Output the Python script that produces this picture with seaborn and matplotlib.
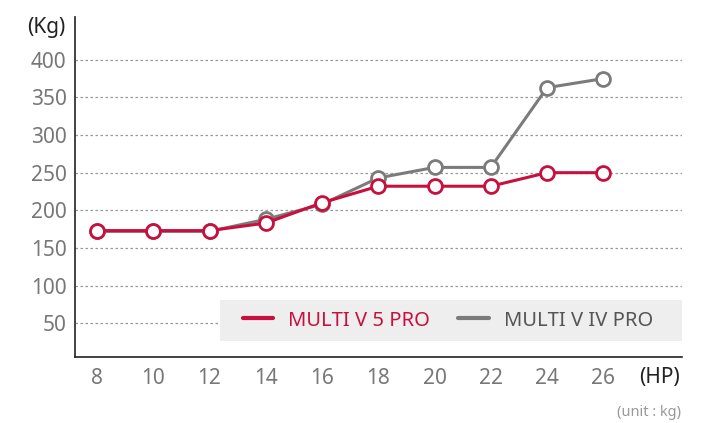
import pandas as pd
import numpy as np
import matplotlib.pyplot as plt
import seaborn as sns
from matplotlib.lines import Line2D
from matplotlib.patches import Rectangle

hp = [8, 10, 12, 14, 16, 18, 20, 22, 24, 26]
multi_v5 = [173, 173, 173, 183, 210, 232, 232, 232, 250, 250]
multi_v4 = [172, 172, 172, 188, 208, 243, 257, 257, 363, 375]
series_names = ['MULTI V 5 PRO', 'MULTI V IV PRO']
y_ticks = [50, 100, 150, 200, 250, 300, 350, 400]

red = '#c8103e'
grey = '#7b7b7b'

sns.set_style('white')
plt.rcParams['font.family'] = ['Noto Sans', 'DejaVu Sans']

df = pd.DataFrame({
    'HP': hp * 2,
    'Kg': multi_v5 + multi_v4,
    'model': [series_names[0]] * len(hp) + [series_names[1]] * len(hp),
})

fig = plt.figure(figsize=(7.15, 4.23), dpi=100)
ax = fig.add_axes([0.105, 0.156, 0.849, 0.804])

# grey first so red sits on top
sns.lineplot(data=df, x='HP', y='Kg', hue='model',
             hue_order=[series_names[1], series_names[0]],
             palette={series_names[0]: red, series_names[1]: grey},
             marker='o', markersize=10, markerfacecolor='white',
             markeredgewidth=2, linewidth=2.2, dashes=False,
             legend=False, ax=ax)

# white fill needs the edge in the line colour
for line in ax.get_lines():
    line.set_markeredgecolor(line.get_color())

ax.set_xlim(7.22, 28.8)
ax.set_ylim(5, 457)
ax.set_xticks(hp)
ax.set_yticks(y_ticks)
ax.tick_params(axis='both', length=0, labelsize=15, labelcolor='#777777')
ax.tick_params(axis='y', pad=6)
ax.tick_params(axis='x', pad=8)
ax.yaxis.grid(True, linestyle=(0, (2, 2)), color='#999999', linewidth=0.9)
ax.set_axisbelow(True)
ax.set_xlabel('')
ax.set_ylabel('')

for s in ['top', 'right']:
    ax.spines[s].set_visible(False)
for s in ['left', 'bottom']:
    ax.spines[s].set_color('#222222')
    ax.spines[s].set_linewidth(1.2)

fig.text(0.065, 0.935, '(Kg)', fontsize=15, color='#222222', ha='center', va='center')
fig.text(0.922, 0.108, '(HP)', fontsize=15, color='#222222', ha='center', va='center')
fig.text(0.953, 0.025, '(unit : kg)', fontsize=10.5, color='#999999', ha='right', va='center')

# legend background box
ax.add_patch(Rectangle((0.3077, 0.1939), 0.646, 0.0969, transform=fig.transFigure,
                       facecolor='#eeeeee', edgecolor='none', zorder=3))

handles = [Line2D([0], [0], color=red, linewidth=3),
           Line2D([0], [0], color=grey, linewidth=3)]
leg = ax.legend(handles, series_names, ncol=2, loc='center',
                bbox_to_anchor=(0.6266, 0.2423), bbox_transform=fig.transFigure,
                frameon=False, fontsize=14.5, handlelength=1.5,
                columnspacing=1.4, handletextpad=0.75, borderpad=0)
leg.set_zorder(4)
for txt, c in zip(leg.get_texts(), [red, '#555555']):
    txt.set_color(c)

plt.savefig('out.png', dpi=100)
